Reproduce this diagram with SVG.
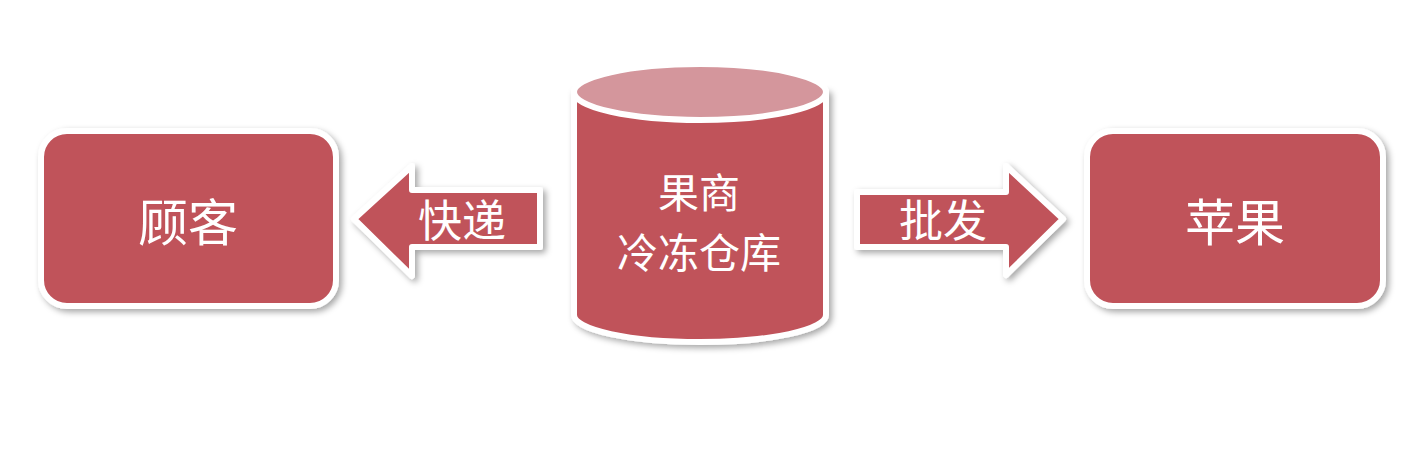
<svg xmlns="http://www.w3.org/2000/svg" width="1420" height="454" viewBox="0 0 1420 454">
<defs>
<filter id="sh" x="-20%" y="-20%" width="140%" height="140%">
<feDropShadow dx="3" dy="3" stdDeviation="3" flood-color="#000" flood-opacity="0.35"/>
</filter>
</defs>
<style>
.shape{fill:#c0525a;stroke:#fff;stroke-width:6;stroke-linejoin:round;filter:url(#sh)}
.top{fill:#d4969c;stroke:#fff;stroke-width:6}
.lbl{fill:#fff;font-family:"Noto Sans CJK SC","Noto Sans",sans-serif;text-anchor:middle;dominant-baseline:central}
</style>
<rect width="1420" height="454" fill="#fff"/>
<g id="connectors">
<g id="arrow-kuaidi">
<path class="shape" d="M540,190 L412,190 L412,166 L354,219 L412,276 L412,247 L540,247 Z"/>
<text class="lbl" x="462" y="218" font-size="44">快递</text>
</g>
<g id="arrow-pifa">
<path class="shape" d="M857,192 L1006,192 L1006,166 L1063,219 L1006,275 L1006,247 L857,247 Z"/>
<text class="lbl" x="943" y="218" font-size="44">批发</text>
</g>
</g>
<g id="node-guke">
<rect class="shape" x="41" y="131" width="295" height="175" rx="26"/>
<text class="lbl" x="188" y="219" font-size="50">顾客</text>
</g>
<g id="node-cangku">
<path class="shape" d="M574,92 L574,315 A126,27 0 0 0 826,315 L826,92 Z"/>
<ellipse class="top" cx="700" cy="92" rx="126" ry="28"/>
<text class="lbl" x="699" y="190" font-size="41">果商</text>
<text class="lbl" x="699" y="250" font-size="41">冷冻仓库</text>
</g>
<g id="node-pingguo">
<rect class="shape" x="1087" y="131" width="296" height="175" rx="26"/>
<text class="lbl" x="1235" y="219" font-size="50">苹果</text>
</g>
</svg>
